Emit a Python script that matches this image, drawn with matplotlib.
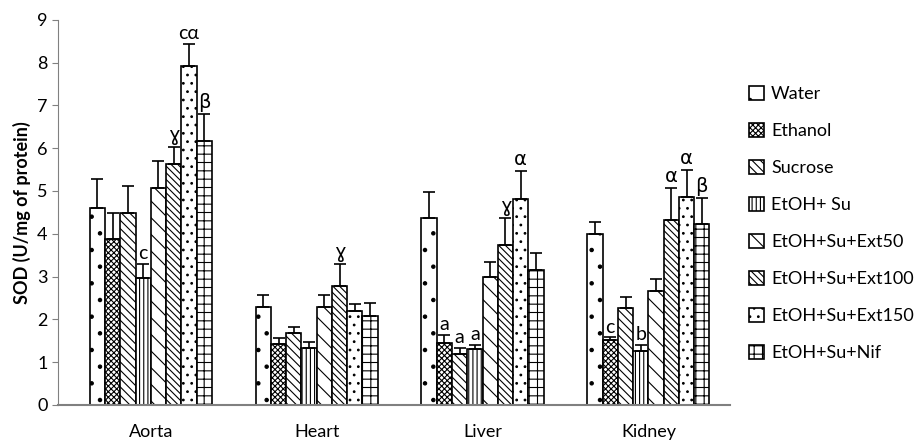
import numpy as np
import matplotlib.pyplot as plt

plt.rcParams['font.family'] = ['Lato', 'DejaVu Sans']
plt.rcParams['hatch.linewidth'] = 0.8

organs = ['Aorta', 'Heart', 'Liver', 'Kidney']
groups = ['Water', 'Ethanol', 'Sucrose', 'EtOH+ Su', 'EtOH+Su+Ext50',
          'EtOH+Su+Ext100', 'EtOH+Su+Ext150', 'EtOH+Su+Nif']

# mean SOD per organ, one list per group (Aorta, Heart, Liver, Kidney)
water = [4.60, 2.29, 4.37, 3.99]
ethanol = [3.88, 1.42, 1.45, 1.52]
sucrose = [4.49, 1.69, 1.19, 2.27]
etoh_su = [2.97, 1.34, 1.30, 1.27]
ext50 = [5.07, 2.29, 2.99, 2.66]
ext100 = [5.63, 2.77, 3.74, 4.32]
ext150 = [7.92, 2.20, 4.81, 4.86]
nif = [6.17, 2.08, 3.16, 4.23]

# upper error (SEM)
water_err = [0.68, 0.28, 0.61, 0.29]
ethanol_err = [0.60, 0.14, 0.18, 0.06]
sucrose_err = [0.63, 0.13, 0.14, 0.25]
etoh_su_err = [0.32, 0.14, 0.10, 0.13]
ext50_err = [0.63, 0.28, 0.35, 0.28]
ext100_err = [0.40, 0.53, 0.63, 0.75]
ext150_err = [0.52, 0.15, 0.66, 0.63]
nif_err = [0.63, 0.30, 0.39, 0.61]

# significance letters: (organ index, group index, text)
letters = [(0, 3, 'c'), (0, 5, 'ɣ'), (0, 6, 'cα'), (0, 7, 'β'),
           (1, 5, 'ɣ'),
           (2, 1, 'a'), (2, 2, 'a'), (2, 3, 'a'), (2, 5, 'ɣ'), (2, 6, 'α'),
           (3, 1, 'c'), (3, 3, 'b'), (3, 5, 'α'), (3, 6, 'α'), (3, 7, 'β')]

means = [water, ethanol, sucrose, etoh_su, ext50, ext100, ext150, nif]
errs = [water_err, ethanol_err, sucrose_err, etoh_su_err, ext50_err,
        ext100_err, ext150_err, nif_err]
hatches = ['.', 'xxxxxx', '\\\\\\\\', '||||', '\\\\', '\\\\\\\\\\', '..', '++']

fig = plt.figure(figsize=(9.19, 4.42), dpi=100)
ax = fig.add_axes([0.063, 0.084, 0.731, 0.871])

x = np.arange(len(organs))
w = 0.092
for i in range(len(groups)):
    pos = x + (i - 3.5) * w
    ax.bar(pos, means[i], w, color='white', edgecolor='black', linewidth=1.2,
           hatch=hatches[i], label=groups[i], zorder=2)
    ax.errorbar(pos, means[i], yerr=[np.zeros(4), errs[i]], fmt='none',
                ecolor='black', elinewidth=1.2, capsize=4, capthick=1.2, zorder=3)

for o, g, t in letters:
    px = o + (g - 3.5) * w
    ax.text(px, means[g][o] + errs[g][o] + 0.04, t, ha='center', va='bottom',
            fontsize=14, family=['DejaVu Sans'] if t in 'ɣαβ' else None)

ax.set_ylim(0, 9)
ax.set_xlim(-0.56, 3.49)
ax.set_yticks(range(10))
ax.set_xticks(x)
ax.set_xticklabels(organs, fontsize=13)
ax.tick_params(axis='y', labelsize=13, length=4, color='gray')
ax.tick_params(axis='x', length=0, pad=14)
ax.set_ylabel('SOD (U/mg of protein)', fontsize=13, fontweight='bold')
for s in ['top', 'right']:
    ax.spines[s].set_visible(False)
ax.spines['bottom'].set_color('gray')
ax.spines['bottom'].set_linewidth(1.5)
ax.spines['left'].set_color('gray')

ax.legend(loc='upper left', bbox_to_anchor=(1.005, 0.87), frameon=False,
          fontsize=13, handlelength=0.8, handleheight=0.8, handletextpad=0.4,
          labelspacing=1.15)

fig.savefig('out.png', dpi=100)
